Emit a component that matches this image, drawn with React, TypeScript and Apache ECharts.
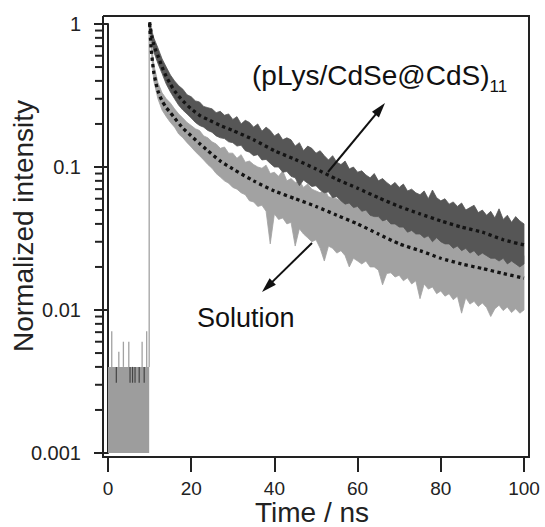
import React, { useEffect, useRef } from "react";
import * as echarts from "echarts";

// ---------- data ----------
const yTickLabels = ["0.001", "0.01", "0.1", "1"];
const yMinorTicks = [
  0.002, 0.003, 0.004, 0.005, 0.006, 0.007, 0.008, 0.009,
  0.02, 0.03, 0.04, 0.05, 0.06, 0.07, 0.08, 0.09,
  0.2, 0.3, 0.4, 0.5, 0.6, 0.7, 0.8, 0.9,
];
const BG_LEVEL = 0.004;
const bgRange = [0, 9.9];
const lightBgSpikes = [
  [0.9, 0.0071], [2.6, 0.0051], [3.7, 0.006], [5.0, 0.006], [8.2, 0.006], [9.3, 0.0071], [9.9, 0.95],
];
const darkBgDips = [
  [2.0, 0.0031], [5.3, 0.0031], [5.9, 0.0031], [6.5, 0.0031], [7.5, 0.0031], [8.7, 0.0031],
];

// [time, lower, upper] envelopes of the noisy decays
const lightBand = [
  [10, 0.9, 1.0], [11, 0.40, 0.52], [12, 0.30, 0.39], [13, 0.25, 0.33], [14, 0.225, 0.30],
  [15, 0.205, 0.28], [16, 0.19, 0.255], [17, 0.17, 0.235], [18, 0.16, 0.22], [19, 0.148, 0.205],
  [20, 0.138, 0.195], [21, 0.128, 0.185], [22, 0.12, 0.18], [23, 0.112, 0.165], [24, 0.104, 0.16],
  [25, 0.098, 0.15], [26, 0.09, 0.145], [27, 0.085, 0.135], [28, 0.08, 0.138], [29, 0.077, 0.125],
  [30, 0.072, 0.125], [31, 0.07, 0.115], [32, 0.066, 0.122], [33, 0.064, 0.108], [34, 0.058, 0.11],
  [35, 0.057, 0.104], [36, 0.053, 0.1], [37, 0.054, 0.098], [38, 0.049, 0.103], [39, 0.029, 0.09],
  [40, 0.047, 0.092], [41, 0.043, 0.086], [42, 0.044, 0.094], [43, 0.04, 0.08], [44, 0.041, 0.083],
  [45, 0.028, 0.078], [46, 0.037, 0.08], [47, 0.034, 0.072], [48, 0.032, 0.076], [49, 0.03, 0.07],
  [50, 0.031, 0.068], [51, 0.027, 0.066], [52, 0.022, 0.07], [53, 0.028, 0.062], [54, 0.027, 0.061],
  [55, 0.025, 0.06], [56, 0.026, 0.058], [57, 0.024, 0.056], [58, 0.02, 0.059], [59, 0.023, 0.052],
  [60, 0.022, 0.053], [61, 0.021, 0.051], [62, 0.022, 0.05], [63, 0.02, 0.048], [64, 0.02, 0.047],
  [65, 0.019, 0.045], [66, 0.015, 0.047], [67, 0.018, 0.042], [68, 0.0182, 0.043], [69, 0.017, 0.041],
  [70, 0.0175, 0.04], [71, 0.016, 0.039], [72, 0.0168, 0.04], [73, 0.0152, 0.036], [74, 0.016, 0.037],
  [75, 0.012, 0.036], [76, 0.0152, 0.035], [77, 0.014, 0.035], [78, 0.0145, 0.033], [79, 0.013, 0.033],
  [80, 0.0136, 0.034], [81, 0.0125, 0.031], [82, 0.013, 0.032], [83, 0.0118, 0.031], [84, 0.0125, 0.03],
  [85, 0.0095, 0.03], [86, 0.0122, 0.029], [87, 0.011, 0.029], [88, 0.0115, 0.028], [89, 0.0106, 0.028],
  [90, 0.0112, 0.027], [91, 0.0104, 0.028], [92, 0.009, 0.026], [93, 0.0102, 0.026], [94, 0.0108, 0.027],
  [95, 0.0099, 0.025], [96, 0.0105, 0.025], [97, 0.0096, 0.026], [98, 0.0102, 0.024], [99, 0.0095, 0.025],
  [100, 0.01, 0.024],
];
const darkBand = [
  [10, 0.95, 1.03], [11, 0.64, 0.80], [12, 0.53, 0.68], [13, 0.45, 0.57], [14, 0.38, 0.50],
  [15, 0.335, 0.44], [16, 0.30, 0.40], [17, 0.27, 0.37], [18, 0.25, 0.35], [19, 0.235, 0.32],
  [20, 0.22, 0.31], [21, 0.205, 0.29], [22, 0.195, 0.285], [23, 0.19, 0.265], [24, 0.18, 0.26],
  [25, 0.175, 0.255], [26, 0.165, 0.24], [27, 0.16, 0.245], [28, 0.158, 0.23], [29, 0.15, 0.235],
  [30, 0.148, 0.215], [31, 0.14, 0.225], [32, 0.142, 0.2], [33, 0.13, 0.212], [34, 0.127, 0.205],
  [35, 0.12, 0.19], [36, 0.122, 0.2], [37, 0.112, 0.178], [38, 0.113, 0.19], [39, 0.106, 0.18],
  [40, 0.1, 0.165], [41, 0.1, 0.172], [42, 0.092, 0.155], [43, 0.093, 0.16], [44, 0.086, 0.155],
  [45, 0.084, 0.14], [46, 0.074, 0.148], [47, 0.081, 0.13], [48, 0.077, 0.14], [49, 0.073, 0.135],
  [50, 0.074, 0.125], [51, 0.069, 0.13], [52, 0.066, 0.12], [53, 0.067, 0.112], [54, 0.061, 0.12],
  [55, 0.062, 0.108], [56, 0.058, 0.104], [57, 0.055, 0.11], [58, 0.056, 0.097], [59, 0.052, 0.1],
  [60, 0.053, 0.092], [61, 0.049, 0.094], [62, 0.05, 0.088], [63, 0.046, 0.084], [64, 0.045, 0.09],
  [65, 0.045, 0.08], [66, 0.042, 0.083], [67, 0.043, 0.078], [68, 0.04, 0.074], [69, 0.04, 0.078],
  [70, 0.038, 0.072], [71, 0.038, 0.076], [72, 0.035, 0.068], [73, 0.036, 0.07], [74, 0.034, 0.066],
  [75, 0.034, 0.064], [76, 0.032, 0.068], [77, 0.033, 0.06], [78, 0.03, 0.069], [79, 0.032, 0.061],
  [80, 0.03, 0.058], [81, 0.029, 0.06], [82, 0.029, 0.055], [83, 0.027, 0.057], [84, 0.028, 0.053],
  [85, 0.026, 0.056], [86, 0.027, 0.05], [87, 0.025, 0.052], [88, 0.026, 0.054], [89, 0.024, 0.048],
  [90, 0.025, 0.05], [91, 0.024, 0.046], [92, 0.023, 0.049], [93, 0.023, 0.044], [94, 0.022, 0.051],
  [95, 0.023, 0.043], [96, 0.021, 0.046], [97, 0.022, 0.041], [98, 0.021, 0.045], [99, 0.02, 0.042],
  [100, 0.021, 0.04],
];

// fitted decays (dotted)
const darkFit = [
  [10, 1.03], [10.3, 0.9], [10.6, 0.8], [11, 0.72], [11.5, 0.65], [12, 0.6], [13, 0.5], [14, 0.43],
  [15, 0.38], [16, 0.34], [18, 0.29], [20, 0.255], [22, 0.23], [24, 0.215], [27, 0.195], [30, 0.18],
  [35, 0.155], [40, 0.13], [45, 0.113], [50, 0.097], [55, 0.082], [60, 0.071], [65, 0.061], [70, 0.053],
  [75, 0.047], [80, 0.042], [85, 0.038], [90, 0.035], [95, 0.031], [100, 0.0285],
];
const lightFit = [
  [10, 1.0], [10.2, 0.8], [10.4, 0.66], [10.7, 0.54], [11, 0.46], [11.5, 0.39], [12, 0.34], [13, 0.29],
  [14, 0.26], [15, 0.24], [16, 0.22], [18, 0.187], [20, 0.165], [22, 0.146], [24, 0.13], [27, 0.11],
  [30, 0.097], [35, 0.08], [40, 0.068], [45, 0.06], [50, 0.053], [55, 0.046], [60, 0.04], [65, 0.034],
  [70, 0.029], [75, 0.026], [80, 0.023], [85, 0.021], [90, 0.0195], [95, 0.018], [100, 0.0167],
];

const FONT = "'Liberation Sans', Arial, Helvetica, sans-serif";
const LIGHT = "#a2a2a2";
const DARK = "#565656";
const INK = "#222";

function bandSeries(band: number[][], color: string, z: number) {
  return {
    type: "custom",
    coordinateSystem: "cartesian2d",
    silent: true,
    z,
    data: [[band[0][0], band[0][2]]],
    renderItem: (params: any, api: any) => {
      const top = band.map((r) => api.coord([r[0], r[2]]));
      const bottom = band.map((r) => api.coord([r[0], r[1]])).reverse();
      return {
        type: "polygon",
        shape: { points: top.concat(bottom) },
        style: { fill: color, stroke: color, lineWidth: 0.8 },
      };
    },
  };
}

function arrowGraphics(tail: number[], tip: number[]) {
  const dx = tip[0] - tail[0];
  const dy = tip[1] - tail[1];
  const len = Math.hypot(dx, dy);
  const ux = dx / len, uy = dy / len;
  const hl = 15, hw = 4.5;
  const bx = tip[0] - ux * hl, by = tip[1] - uy * hl;
  return [
    { type: "line", shape: { x1: tail[0], y1: tail[1], x2: bx + ux * 2, y2: by + uy * 2 }, style: { stroke: "#111", lineWidth: 2 }, z: 110 },
    {
      type: "polygon",
      shape: { points: [[tip[0], tip[1]], [bx - uy * hw, by + ux * hw], [bx + uy * hw, by - ux * hw]] },
      style: { fill: "#111" },
      z: 110,
    },
  ];
}

export default function App() {
  const ref = useRef<HTMLDivElement>(null);
  useEffect(() => {
    document.body.style.margin = "0";
    const chart = echarts.init(ref.current!, null, { renderer: "svg" });
    const option: any = {
      animation: false,
      backgroundColor: "#fff",
      grid: { left: 108, right: 21, top: 24, bottom: 74, containLabel: false, outerBoundsMode: "none" },
      xAxis: {
        type: "value",
        min: 0,
        max: 100,
        interval: 20,
        offset: 4,
        axisLine: { show: true, lineStyle: { color: INK, width: 2 } },
        axisTick: { show: true, length: 15, lineStyle: { color: INK, width: 2 } },
        splitLine: { show: false },
        axisLabel: { margin: 22, fontSize: 19, lineHeight: 19, color: INK, fontFamily: FONT },
        name: "Time / ns",
        nameLocation: "middle",
        nameGap: 42,
        nameMoveOverlap: false,
        nameTextStyle: { fontSize: 28, lineHeight: 26, color: INK, fontFamily: FONT, padding: [0, 8, 0, 0] },
      },
      yAxis: {
        type: "log",
        logBase: 10,
        min: 0.001,
        max: 1,
        offset: 6,
        axisLine: { show: true, lineStyle: { color: INK, width: 2 } },
        axisTick: { show: true, length: 14, lineStyle: { color: INK, width: 2 } },
        splitLine: { show: false },
        axisLabel: {
          margin: 21,
          fontSize: 20,
          color: INK,
          fontFamily: FONT,
          formatter: (v: number) => yTickLabels[Math.round(Math.log10(v)) + 3] ?? "",
        },
        name: "Normalized intensity",
        nameLocation: "middle",
        nameGap: 65,
        nameMoveOverlap: false,
        nameTextStyle: { fontSize: 28, color: INK, fontFamily: FONT, padding: [0, 0, 0, 25] },
      },
      series: [
        {
          type: "custom",
          coordinateSystem: "cartesian2d",
          silent: true,
          z: 1,
          data: [[bgRange[0], BG_LEVEL]],
          renderItem: (params: any, api: any) => {
            const p1 = api.coord([bgRange[0], BG_LEVEL]);
            const p2 = api.coord([bgRange[1], 0.001]);
            return {
              type: "rect",
              shape: { x: p1[0], y: p1[1], width: p2[0] - p1[0], height: p2[1] - p1[1] },
              style: { fill: "#9d9d9d" },
            };
          },
        },
        {
          type: "custom",
          coordinateSystem: "cartesian2d",
          silent: true,
          z: 2,
          data: lightBgSpikes,
          renderItem: (params: any, api: any) => {
            const a = api.coord([api.value(0), BG_LEVEL]);
            const b = api.coord([api.value(0), api.value(1)]);
            return { type: "line", shape: { x1: a[0], y1: a[1], x2: b[0], y2: b[1] }, style: { stroke: LIGHT, lineWidth: 1.3 } };
          },
        },
        bandSeries(lightBand, LIGHT, 3),
        bandSeries(darkBand, DARK, 4),
        {
          type: "custom",
          coordinateSystem: "cartesian2d",
          silent: true,
          z: 5,
          data: darkBgDips,
          renderItem: (params: any, api: any) => {
            const a = api.coord([api.value(0), BG_LEVEL]);
            const b = api.coord([api.value(0), api.value(1)]);
            return { type: "line", shape: { x1: a[0], y1: a[1], x2: b[0], y2: b[1] }, style: { stroke: "#444", lineWidth: 1.2 } };
          },
        },
        {
          type: "custom",
          coordinateSystem: "cartesian2d",
          silent: true,
          z: 6,
          data: yMinorTicks.map((v) => [0, v]),
          renderItem: (params: any, api: any) => {
            const p = api.coord([0, api.value(1)]);
            return { type: "line", shape: { x1: p[0] - 6, y1: p[1], x2: p[0] - 13, y2: p[1] }, style: { stroke: INK, lineWidth: 2 } };
          },
        },
        {
          name: "Solution fit",
          type: "line",
          data: lightFit,
          showSymbol: false,
          smooth: 0.2,
          clip: false,
          z: 7,
          lineStyle: { color: "#141414", width: 3.3, type: [3.3, 3.4], cap: "butt" },
        },
        {
          name: "pLys fit",
          type: "line",
          data: darkFit,
          showSymbol: false,
          smooth: 0.2,
          clip: false,
          z: 7,
          lineStyle: { color: "#141414", width: 3.3, type: [3.3, 3.4], cap: "butt" },
        },
      ],
      graphic: [
        {
          type: "polyline",
          shape: { points: [[103, 16], [529, 16], [529, 457], [103, 457], [103, 16]] },
          style: { fill: null, stroke: INK, lineWidth: 2 },
          z: 100,
          silent: true,
        },
        {
          type: "text",
          x: 252,
          y: 80,
          z: 110,
          style: {
            text: "{m|(pLys/CdSe@CdS)}{s|11}",
            verticalAlign: "middle",
            fill: "#111",
            rich: {
              m: { fontSize: 28, fontFamily: FONT, fill: "#111", lineHeight: 30, padding: [0, 0, 6, 0], verticalAlign: "bottom" },
              s: { fontSize: 17, fontFamily: FONT, fill: "#111", lineHeight: 18, verticalAlign: "bottom" },
            },
          },
        },
        {
          type: "text",
          x: 197,
          y: 318,
          z: 110,
          style: { text: "Solution", fontSize: 27, fontFamily: FONT, fill: "#111", verticalAlign: "middle" },
        },
        ...arrowGraphics([328, 172], [385, 103]),
        ...arrowGraphics([312, 243], [262, 292]),
      ],
    };
    chart.setOption(option);
    return () => chart.dispose();
  }, []);
  return <div ref={ref} style={{ width: 545, height: 527 }} />;
}
